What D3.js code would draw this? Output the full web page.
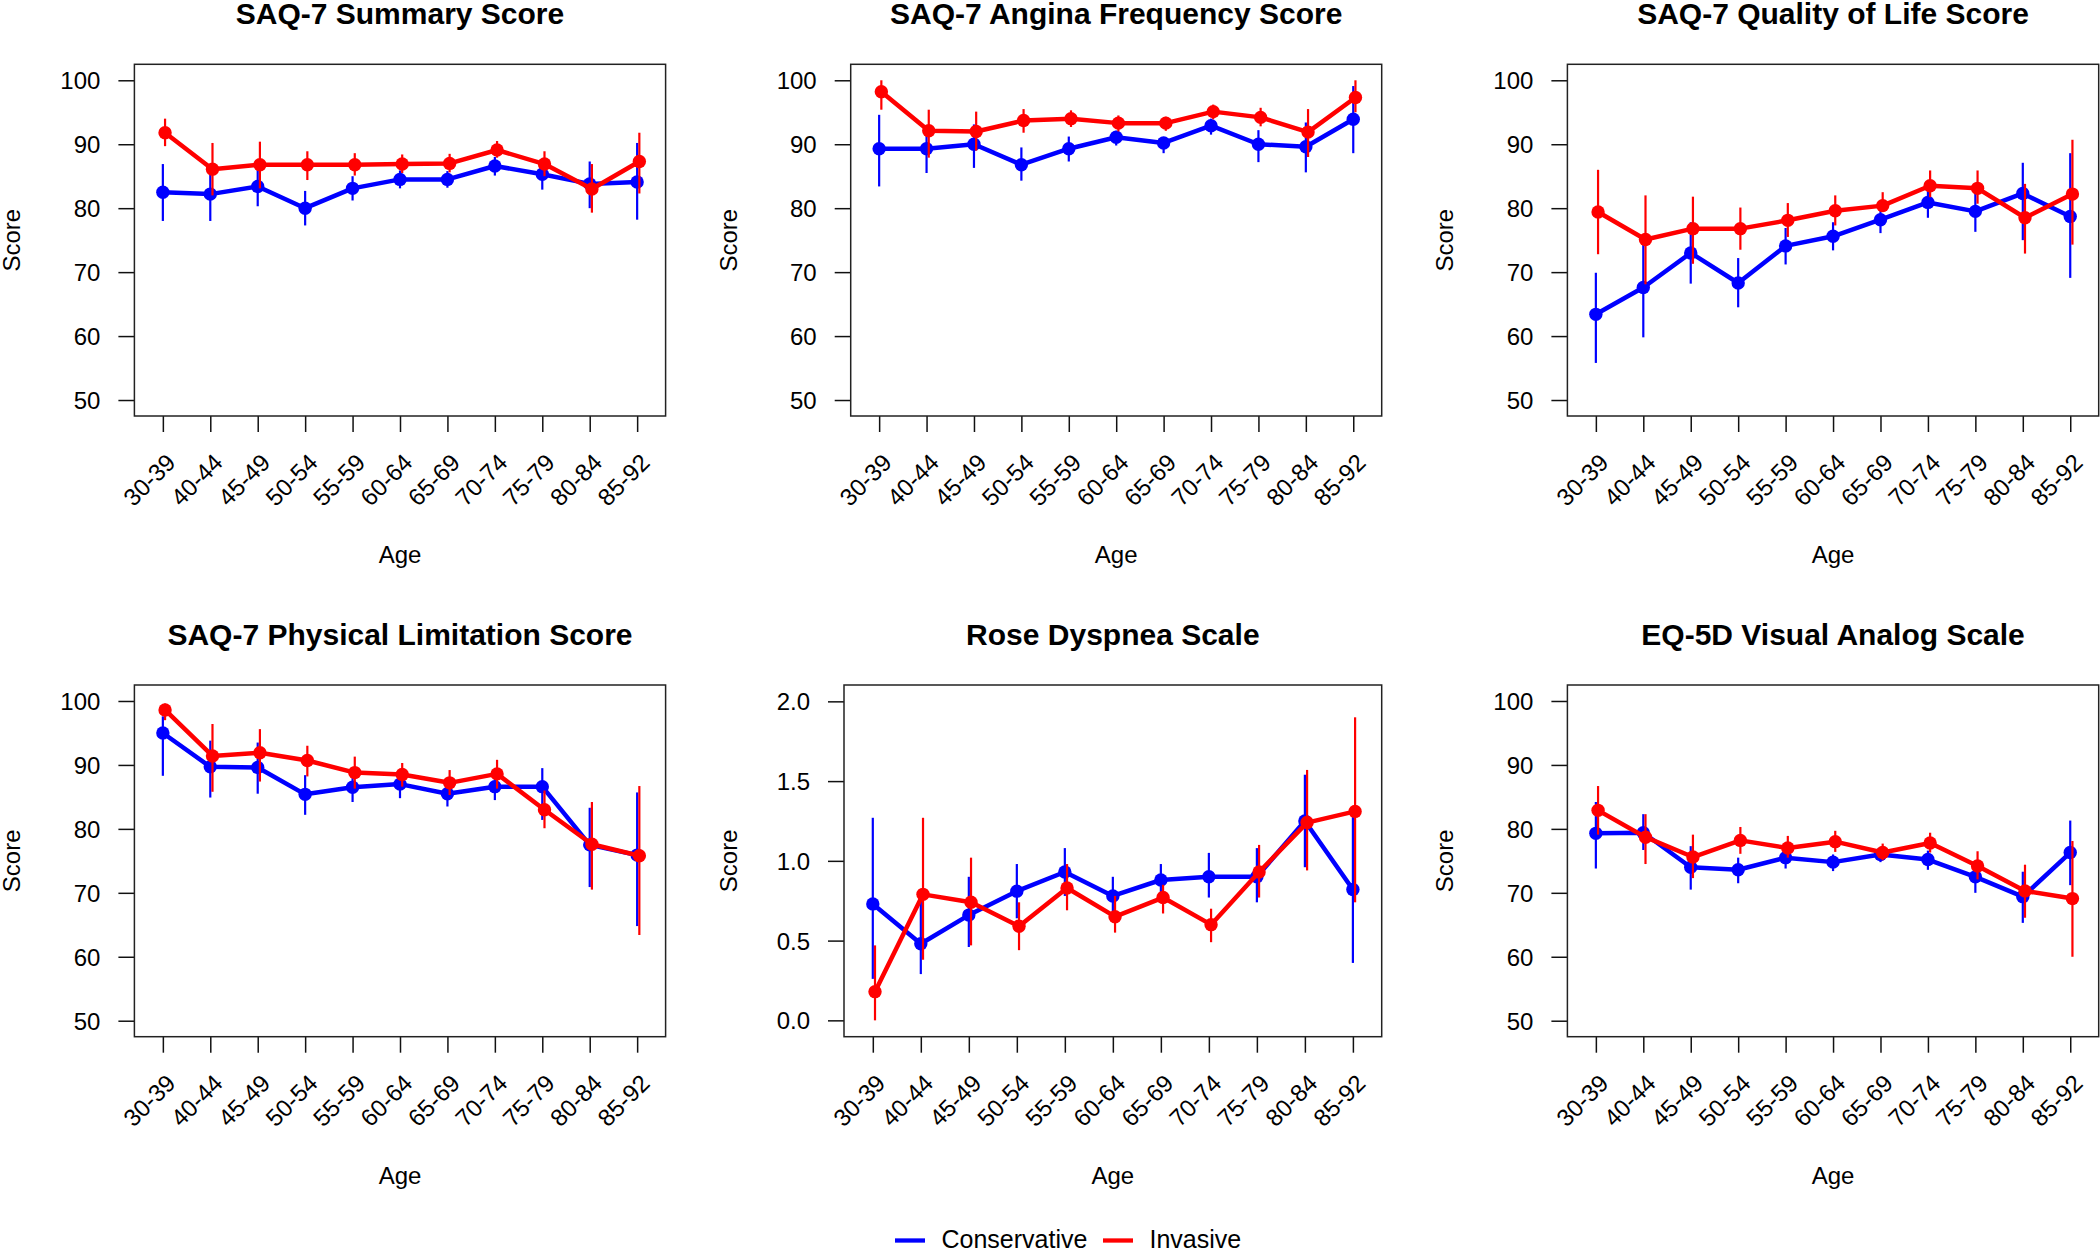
<!DOCTYPE html>
<html>
<head>
<meta charset="utf-8">
<script src="https://cdn.jsdelivr.net/npm/d3@7"></script>
<style>
  body { margin: 0; background: #fff; }
  text { font-family: "Liberation Sans", Arial, sans-serif; fill: #000; }
</style>
</head>
<body>
<script>
const w = 2100; // width
const h = 1252; // height

// categories
const ageGroups = ["30-39", "40-44", "45-49", "50-54", "55-59", "60-64", "65-69", "70-74", "75-79", "80-84", "85-92"];
const titles = ["SAQ-7 Summary Score", "SAQ-7 Angina Frequency Score", "SAQ-7 Quality of Life Score",
    "SAQ-7 Physical Limitation Score", "Rose Dyspnea Scale", "EQ-5D Visual Analog Scale"];
const seriesNames = ["Conservative", "Invasive"];

// y tick labels
const scoreTicks = [50, 60, 70, 80, 90, 100];
const roseTicks = [0, 0.5, 1, 1.5, 2];

// SAQ-7 Summary
const summaryConsMean = [82.5, 82.2, 83.4, 80.0, 83.1, 84.5, 84.5, 86.6, 85.3, 83.8, 84.1];
const summaryConsLo = [78.0, 78.0, 80.3, 77.3, 81.2, 83.1, 83.2, 85.1, 82.9, 80.0, 78.2];
const summaryConsHi = [86.9, 86.4, 86.6, 82.7, 85.0, 85.9, 85.8, 88.0, 86.4, 87.3, 90.2];
const summaryInvMean = [91.8, 86.1, 86.8, 86.8, 86.8, 86.9, 87.0, 89.1, 86.9, 83.0, 87.3];
const summaryInvLo = [89.7, 82.0, 83.1, 84.4, 85.1, 85.5, 85.6, 87.9, 85.0, 79.3, 82.3];
const summaryInvHi = [94.0, 90.2, 90.4, 88.9, 88.6, 88.4, 88.5, 90.5, 88.9, 86.9, 91.8];

// SAQ-7 Angina Frequency
const anginaConsMean = [89.3, 89.3, 90.0, 86.8, 89.3, 91.1, 90.2, 92.9, 90.0, 89.6, 93.9];
const anginaConsLo = [83.4, 85.5, 86.3, 84.3, 87.3, 89.8, 88.6, 91.5, 87.2, 85.6, 88.6];
const anginaConsHi = [94.6, 93.0, 93.1, 89.5, 91.2, 92.1, 91.1, 94.0, 92.2, 93.4, 99.1];
const anginaInvMean = [98.2, 92.1, 92.0, 93.7, 94.0, 93.3, 93.3, 95.1, 94.2, 91.9, 97.3];
const anginaInvLo = [95.4, 87.9, 89.0, 91.8, 92.7, 92.0, 92.1, 93.9, 92.8, 88.0, 95.0];
const anginaInvHi = [100, 95.4, 95.1, 95.5, 95.3, 94.5, 94.3, 96.2, 95.7, 95.5, 100];

// SAQ-7 Quality of Life
const qolConsMean = [63.4, 67.6, 73.0, 68.3, 74.1, 75.6, 78.2, 80.9, 79.5, 82.3, 78.7];
const qolConsLo = [55.8, 59.8, 68.2, 64.5, 71.2, 73.4, 76.1, 78.5, 76.3, 75.0, 69.1];
const qolConsHi = [69.9, 75.3, 77.8, 72.2, 76.9, 77.8, 79.8, 83.3, 82.8, 87.1, 88.6];
const qolInvMean = [79.4, 75.1, 76.8, 76.8, 78.1, 79.6, 80.4, 83.5, 83.1, 78.5, 82.2];
const qolInvLo = [72.8, 68.1, 71.3, 73.5, 75.5, 77.3, 79.7, 81.7, 80.7, 72.9, 74.3];
const qolInvHi = [86.0, 82.0, 81.8, 80.1, 80.8, 82.0, 82.5, 85.9, 85.9, 83.8, 90.7];

// SAQ-7 Physical Limitation
const physConsMean = [95.0, 89.7, 89.6, 85.4, 86.5, 87.0, 85.5, 86.6, 86.6, 77.5, 75.9];
const physConsLo = [88.3, 84.9, 85.5, 82.2, 84.2, 84.8, 83.5, 84.5, 81.4, 70.9, 64.8];
const physConsHi = [97.6, 93.8, 93.5, 88.4, 88.7, 89.2, 87.6, 88.7, 89.5, 83.3, 85.7];
const physInvMean = [98.6, 91.4, 91.9, 90.7, 88.8, 88.5, 87.2, 88.6, 83.0, 77.6, 75.8];
const physInvLo = [97.0, 85.8, 87.4, 88.2, 86.3, 86.6, 85.3, 86.3, 80.1, 70.5, 63.4];
const physInvHi = [99.6, 96.4, 95.6, 93.0, 91.3, 90.3, 89.2, 90.8, 86.0, 84.2, 86.7];

// Rose Dyspnea
const roseConsMean = [0.73, 0.48, 0.66, 0.81, 0.93, 0.78, 0.88, 0.90, 0.90, 1.25, 0.82];
const roseConsLo = [0.26, 0.29, 0.46, 0.64, 0.78, 0.67, 0.77, 0.77, 0.74, 0.96, 0.36];
const roseConsHi = [1.27, 0.79, 0.90, 0.98, 1.08, 0.90, 0.98, 1.05, 1.08, 1.54, 1.28];
const roseInvMean = [0.18, 0.79, 0.74, 0.59, 0.83, 0.65, 0.77, 0.60, 0.93, 1.24, 1.31];
const roseInvLo = [0.00, 0.38, 0.47, 0.44, 0.69, 0.55, 0.67, 0.49, 0.77, 0.94, 0.74];
const roseInvHi = [0.47, 1.27, 1.02, 0.74, 0.98, 0.78, 0.85, 0.70, 1.10, 1.57, 1.90];

// EQ-5D VAS
const eqConsMean = [79.3, 79.4, 74.0, 73.6, 75.5, 74.8, 76.0, 75.2, 72.5, 69.4, 76.3];
const eqConsLo = [73.8, 76.7, 70.5, 71.5, 73.8, 73.4, 74.8, 73.6, 70.0, 65.3, 71.2];
const eqConsHi = [84.2, 82.3, 77.3, 75.5, 76.7, 76.0, 76.7, 76.6, 73.8, 73.3, 81.3];
const eqInvMean = [82.9, 78.7, 75.6, 78.2, 77.0, 78.0, 76.3, 77.8, 74.2, 70.3, 69.1];
const eqInvLo = [79.1, 74.5, 72.3, 76.1, 75.5, 76.4, 75.1, 76.3, 72.1, 66.1, 60.0];
const eqInvHi = [86.7, 82.3, 79.1, 80.3, 78.9, 79.7, 77.7, 79.4, 76.5, 74.4, 78.1];

const colors = ["#0000ff", "#ff0000"];
const dodge = [0, 2.2]; // invasive sits a hair to the right

// layout of the 3x2 grid
const colLeft = [134.4, 850.7, 1567.4];
const colRight = [665.6, 1381.7, 2098.7];
const rowTop = [64.3, 685];
const rowBottom = [416, 1036.7];

const scoreDomain = [47.5, 102.5];
const roseDomain = [-0.1025, 2.1025];

const panels = [
    { cons: [summaryConsMean, summaryConsLo, summaryConsHi], inv: [summaryInvMean, summaryInvLo, summaryInvHi], domain: scoreDomain, ticks: scoreTicks, fmt: d3.format("d") },
    { cons: [anginaConsMean, anginaConsLo, anginaConsHi], inv: [anginaInvMean, anginaInvLo, anginaInvHi], domain: scoreDomain, ticks: scoreTicks, fmt: d3.format("d") },
    { cons: [qolConsMean, qolConsLo, qolConsHi], inv: [qolInvMean, qolInvLo, qolInvHi], domain: scoreDomain, ticks: scoreTicks, fmt: d3.format("d") },
    { cons: [physConsMean, physConsLo, physConsHi], inv: [physInvMean, physInvLo, physInvHi], domain: scoreDomain, ticks: scoreTicks, fmt: d3.format("d") },
    { cons: [roseConsMean, roseConsLo, roseConsHi], inv: [roseInvMean, roseInvLo, roseInvHi], domain: roseDomain, ticks: roseTicks, fmt: d3.format(".1f"), left: 844 },
    { cons: [eqConsMean, eqConsLo, eqConsHi], inv: [eqInvMean, eqInvLo, eqInvHi], domain: scoreDomain, ticks: scoreTicks, fmt: d3.format("d") }
];

let svg = d3.select("body")
    .append("svg")
    .attr("width", w)
    .attr("height", h);

panels.forEach((p, i) => drawPanel(p, i));
drawLegend();

function drawPanel(p, i) {
    const col = i % 3, row = Math.floor(i / 3);
    const l = p.left || colLeft[col], r = colRight[col];
    const t = rowTop[row], b = rowBottom[row];
    const g = svg.append("g");

    let x = d3.scalePoint()
        .domain(ageGroups)
        .range([l, r])
        .padding(0.6);

    let y = d3.scaleLinear()
        .domain(p.domain)
        .range([b, t]);

    // y axis
    const ya = g.append("g")
        .attr("transform", `translate(${l},0)`)
        .call(d3.axisLeft(y).tickValues(p.ticks).tickFormat(p.fmt).tickSize(16).tickPadding(18));
    ya.select(".domain").remove();
    ya.selectAll("line").attr("stroke", "#111").attr("stroke-width", 1.5);
    ya.selectAll("text").attr("font-size", 24).attr("font-family", null).attr("dy", "0.35em");

    // x axis
    const xa = g.append("g")
        .attr("transform", `translate(0,${b})`)
        .call(d3.axisBottom(x).tickSize(16).tickFormat(""));
    xa.select(".domain").remove();
    xa.selectAll("line").attr("stroke", "#111").attr("stroke-width", 1.5);

    g.selectAll(".xlab")
        .data(ageGroups)
        .enter()
        .append("text")
        .attr("class", "xlab")
        .attr("text-anchor", "end")
        .attr("font-size", 24)
        .attr("transform", (d) => `translate(${x(d) + 14},${b + 48}) rotate(-45)`)
        .text((d) => d);

    // box
    g.append("rect")
        .attr("x", l)
        .attr("y", t)
        .attr("width", r - l)
        .attr("height", b - t)
        .attr("fill", "none")
        .attr("stroke", "#222")
        .attr("stroke-width", 1.5);

    // series: conservative first, invasive on top
    [p.cons, p.inv].forEach((s, k) => {
        const pts = ageGroups.map((a, j) => ({ a: a, m: s[0][j], lo: s[1][j], hi: s[2][j] }));
        const px = (d) => x(d.a) + dodge[k];
        const sg = g.append("g");

        sg.selectAll("line.err")
            .data(pts)
            .enter()
            .append("line")
            .attr("class", "err")
            .attr("x1", px)
            .attr("x2", px)
            .attr("y1", (d) => y(d.lo))
            .attr("y2", (d) => y(d.hi))
            .attr("stroke", colors[k])
            .attr("stroke-width", 2.2);

        sg.append("path")
            .datum(pts)
            .attr("fill", "none")
            .attr("stroke", colors[k])
            .attr("stroke-width", 4.5)
            .attr("stroke-linejoin", "round")
            .attr("d", d3.line().x(px).y((d) => y(d.m)));

        sg.selectAll("circle")
            .data(pts)
            .enter()
            .append("circle")
            .attr("cx", px)
            .attr("cy", (d) => y(d.m))
            .attr("r", 6.7)
            .attr("fill", colors[k]);
    });

    // title
    g.append("text")
        .attr("text-anchor", "middle")
        .attr("x", (l + r) / 2)
        .attr("y", t - 40)
        .attr("font-size", 30)
        .attr("font-weight", "bold")
        .text(titles[i]);

    // axis labels
    g.append("text")
        .attr("text-anchor", "middle")
        .attr("x", (l + r) / 2)
        .attr("y", b + 147)
        .attr("font-size", 24)
        .text("Age");

    g.append("text")
        .attr("text-anchor", "middle")
        .attr("transform", `translate(${colLeft[col] - 122.5},${(t + b) / 2}) rotate(-90)`)
        .attr("dy", "0.35em")
        .attr("font-size", 24)
        .text("Score");
}

function drawLegend() {
    const lx = [895, 1103];
    const lg = svg.append("g");
    seriesNames.forEach((name, k) => {
        lg.append("line")
            .attr("x1", lx[k])
            .attr("x2", lx[k] + 30)
            .attr("y1", 1240.5)
            .attr("y2", 1240.5)
            .attr("stroke", colors[k])
            .attr("stroke-width", 4.3);
        lg.append("text")
            .attr("x", lx[k] + 46.5)
            .attr("y", 1248.3)
            .attr("font-size", 25)
            .text(name);
    });
}
</script>
</body>
</html>
